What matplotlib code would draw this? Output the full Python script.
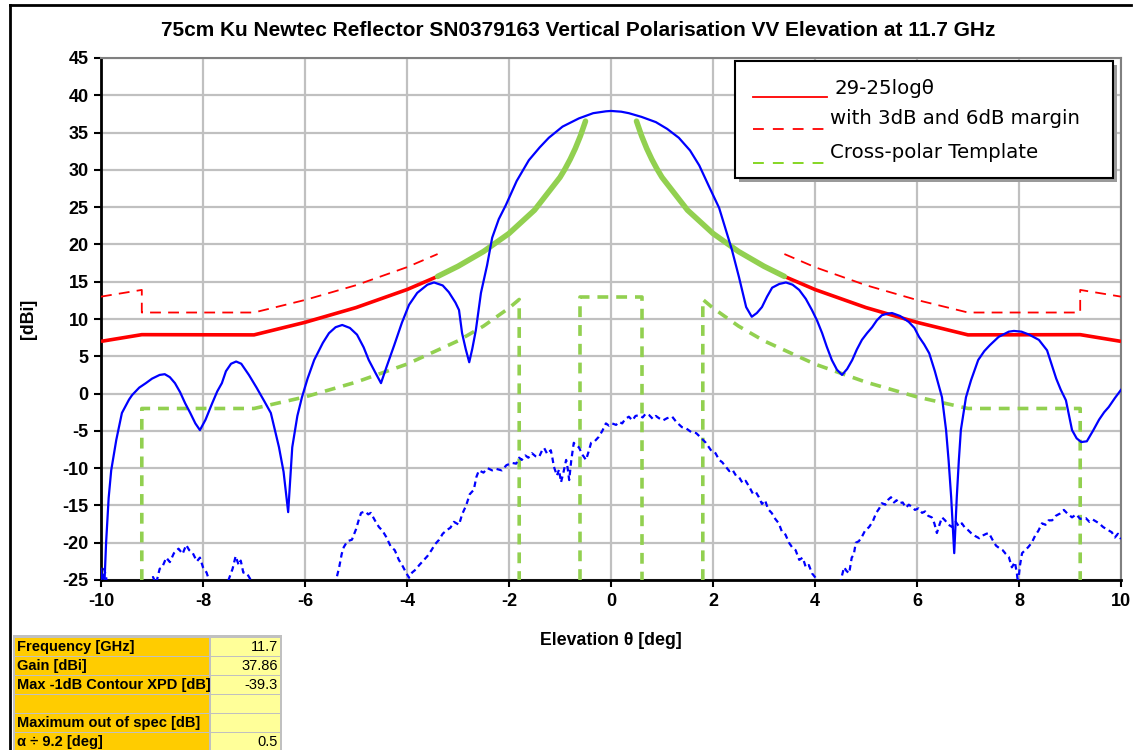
import matplotlib
matplotlib.use("Agg")
import matplotlib.pyplot as plt
from matplotlib.lines import Line2D
from matplotlib.patches import Rectangle

# ---------------- data ----------------
title = "75cm Ku Newtec Reflector SN0379163 Vertical Polarisation VV Elevation at 11.7 GHz"
x_ticks = [-10, -8, -6, -4, -2, 0, 2, 4, 6, 8, 10]
y_ticks = [-25, -20, -15, -10, -5, 0, 5, 10, 15, 20, 25, 30, 35, 40, 45]

co_theta = [-10.0, -9.96, -9.9, -9.85, -9.8, -9.7, -9.59, -9.45, -9.39, -9.25, -9.12, -9.0, -8.85, -8.75,
            -8.65, -8.55, -8.45, -8.35, -8.25, -8.15, -8.06, -7.95, -7.82, -7.72, -7.63, -7.55, -7.45,
            -7.35, -7.25, -7.1, -6.95, -6.8, -6.67, -6.51, -6.42, -6.33, -6.25, -6.15, -6.06, -5.95,
            -5.82, -5.65, -5.53, -5.4, -5.27, -5.12, -4.98, -4.85, -4.75, -4.62, -4.51, -4.4, -4.25,
            -4.1, -3.96, -3.8, -3.6, -3.47, -3.3, -3.18, -3.05, -2.98, -2.92, -2.85, -2.78, -2.72,
            -2.65, -2.55, -2.43, -2.33, -2.2, -2.06, -1.85, -1.61, -1.4, -1.22, -0.95, -0.63, -0.35,
            -0.1, 0.0, 0.2, 0.35, 0.6, 0.88, 1.1, 1.33, 1.55, 1.73, 1.92, 2.12, 2.25, 2.37, 2.51, 2.65,
            2.76, 2.86, 2.96, 3.06, 3.16, 3.3, 3.43, 3.56, 3.69, 3.82, 3.94, 4.04, 4.14, 4.23, 4.33,
            4.43, 4.53, 4.63, 4.73, 4.82, 4.92, 5.02, 5.12, 5.21, 5.31, 5.41, 5.51, 5.67, 5.84, 5.95,
            6.04, 6.14, 6.24, 6.35, 6.45, 6.49, 6.57, 6.62, 6.67, 6.73, 6.78, 6.82, 6.86, 6.96, 7.06,
            7.2, 7.32, 7.43, 7.6, 7.8, 7.9, 8.05, 8.2, 8.39, 8.55, 8.73, 8.82, 8.92, 9.04, 9.13, 9.22,
            9.33, 9.45, 9.57, 9.67, 9.76, 9.88, 10.0]
co_gain = [-23.5, -30.0, -20.0, -14.0, -10.3, -6.2, -2.6, -0.8, -0.2, 0.8, 1.4, 2.0, 2.5, 2.6,
           2.2, 1.4, 0.2, -1.3, -2.6, -4.0, -4.9, -3.5, -1.3, 0.3, 1.4, 3.0, 4.0,
           4.3, 4.0, 2.5, 0.8, -1.0, -2.6, -7.2, -10.5, -15.9, -7.2, -3.0, -0.5, 2.0,
           4.5, 6.8, 8.1, 8.9, 9.2, 8.8, 7.9, 6.2, 4.5, 2.8, 1.4, 3.6, 6.5,
           9.5, 11.9, 13.5, 14.6, 14.9, 14.5, 13.6, 12.2, 11.2, 8.1, 6.0, 4.2, 6.0,
           8.5, 13.5, 17.2, 20.9, 23.4, 25.3, 28.5, 31.3, 33.0, 34.3, 35.8, 36.9, 37.6,
           37.85, 37.9, 37.8, 37.6, 37.1, 36.4, 35.5, 34.3, 32.6, 30.6, 27.8, 24.9, 22.0, 19.3, 15.6, 11.6,
           10.3, 10.8, 11.6, 13.0, 14.2, 14.7, 14.9, 14.6, 13.9, 12.7, 11.2, 9.8, 8.1, 6.3, 4.5,
           3.2, 2.5, 3.3, 4.5, 5.9, 7.2, 8.1, 8.9, 9.8, 10.5, 10.7, 10.8, 10.4, 9.6, 8.8,
           7.6, 6.6, 5.4, 3.0, 0.5, -0.5, -4.9, -9.0, -13.9, -21.4, -13.9, -9.0, -4.9, -0.5, 1.8,
           4.5, 5.7, 6.5, 7.6, 8.3, 8.4, 8.3, 7.9, 7.2, 5.8, 2.0, 0.5, -0.9, -4.9, -6.0, -6.5,
           -6.4, -5.0, -3.5, -2.5, -1.8, -0.6, 0.5]

xp_theta = [-10.0, -9.97, -9.94, -9.9, -9.86, -9.2, -9.1, -8.98, -8.92, -8.85, -8.8, -8.72, -8.65,
            -8.57, -8.48, -8.4, -8.33, -8.27, -8.2, -8.12, -8.06, -8.0, -7.93, -7.86, -7.8, -7.55,
            -7.5, -7.42, -7.36, -7.3, -7.26, -7.21, -7.14, -7.08, -7.0, -6.95, -5.42, -5.39, -5.33,
            -5.28, -5.24, -5.17, -5.08, -5.0, -4.94, -4.9, -4.82, -4.76, -4.71, -4.63, -4.55, -4.48,
            -4.41, -4.32, -4.24, -4.16, -4.08, -4.02, -3.96, -3.9, -3.83, -3.76, -3.68, -3.6, -3.52,
            -3.45, -3.37, -3.3, -3.22, -3.15, -3.08, -2.98, -2.92, -2.84, -2.77, -2.69, -2.64, -2.59,
            -2.5, -2.42, -2.33, -2.25, -2.14, -2.05, -1.94, -1.86, -1.8, -1.75, -1.68, -1.62, -1.55,
            -1.48, -1.41, -1.35, -1.31, -1.25, -1.18, -1.15, -1.12, -1.06, -1.02, -0.98, -0.93, -0.88,
            -0.85, -0.82, -0.78, -0.73, -0.68, -0.63, -0.56, -0.49, -0.44, -0.39, -0.32, -0.24, -0.17,
            -0.1, -0.04, 0.02, 0.1, 0.16, 0.22, 0.28, 0.35, 0.42, 0.48, 0.55, 0.62, 0.68, 0.75, 0.82,
            0.88, 0.94, 1.02, 1.1, 1.2, 1.28, 1.39, 1.48, 1.58, 1.67, 1.76, 1.86, 1.92, 1.98, 2.05,
            2.12, 2.18, 2.25, 2.32, 2.38, 2.45, 2.51, 2.58, 2.64, 2.71, 2.78, 2.84, 2.9, 2.96, 3.02,
            3.08, 3.15, 3.22, 3.29, 3.35, 3.42, 3.49, 3.55, 3.62, 3.69, 3.76, 3.82, 3.88, 3.94, 4.0,
            4.08, 4.1, 4.45, 4.5, 4.57, 4.62, 4.67, 4.72, 4.76, 4.8, 4.86, 4.92, 4.98, 5.06, 5.13,
            5.2, 5.26, 5.31, 5.38, 5.44, 5.49, 5.55, 5.6, 5.65, 5.72, 5.78, 5.84, 5.9, 5.96, 6.03,
            6.1, 6.16, 6.22, 6.29, 6.34, 6.39, 6.44, 6.49, 6.55, 6.62, 6.69, 6.76, 6.82, 6.88, 6.94,
            7.0, 7.06, 7.14, 7.22, 7.3, 7.36, 7.41, 7.48, 7.55, 7.61, 7.68, 7.74, 7.8, 7.86, 7.92,
            7.96, 7.98, 8.02, 8.06, 8.12, 8.18, 8.25, 8.32, 8.38, 8.45, 8.52, 8.58, 8.65, 8.72, 8.8,
            8.88, 8.95, 9.04, 9.12, 9.2, 9.31, 9.38, 9.45, 9.57, 9.65, 9.72, 9.82, 9.88, 9.94, 10.0]
xp_gain = [-24.0, -27.0, -23.5, -24.5, -28.0, -28.0, -26.0, -24.6, -25.5, -23.5, -23.3, -22.0, -22.6,
           -21.4, -20.8, -21.5, -20.3, -21.0, -21.4, -22.5, -22.0, -23.3, -24.0, -25.5, -28.0, -28.0,
           -25.0, -23.5, -21.8, -23.0, -22.4, -24.0, -24.1, -24.8, -26.0, -28.0, -28.0, -25.0, -23.3,
           -21.5, -20.6, -19.8, -19.6, -18.2, -16.8, -16.0, -15.8, -16.2, -16.0, -17.0, -17.9, -18.4,
           -19.2, -20.5, -21.0, -22.3, -23.2, -24.0, -24.7, -24.0, -23.6, -23.0, -22.4, -21.8, -21.0,
           -20.2, -19.6, -18.8, -18.3, -18.0, -17.2, -17.6, -16.2, -15.0, -13.5, -12.9, -11.2, -10.3,
           -10.6, -10.0, -10.3, -10.1, -10.3, -9.6, -9.3, -9.4, -8.6, -8.9, -8.3, -8.6, -8.0,
           -8.4, -8.5, -7.6, -7.3, -8.1, -7.6, -8.6, -9.8, -11.0, -10.2, -11.9, -10.5, -8.9,
           -10.0, -11.6, -9.0, -6.6, -7.0, -7.2, -8.2, -8.9, -7.8, -6.6, -6.4, -5.8, -5.0,
           -4.0, -4.3, -4.0, -4.2, -3.8, -4.0, -3.4, -3.1, -3.6, -3.0, -2.9, -3.2, -2.7, -2.9, -3.4,
           -3.0, -3.3, -3.6, -3.3, -3.1, -3.8, -4.5, -4.7, -5.2, -5.3, -5.9, -6.6, -7.2, -7.8, -8.0,
           -8.9, -9.2, -9.8, -10.4, -10.2, -11.0, -11.2, -12.0, -11.7, -12.5, -13.4, -13.2, -13.9, -14.8, -14.3,
           -15.5, -16.0, -16.8, -17.4, -18.5, -18.9, -20.0, -20.6, -21.0, -22.3, -22.0, -23.3, -23.0, -24.1, -24.6,
           -25.5, -28.0, -28.0, -25.2, -23.3, -23.8, -24.1, -22.0, -21.6, -20.0, -19.8, -19.2, -18.4, -17.9, -17.2,
           -16.0, -15.4, -14.7, -14.9, -14.2, -13.9, -14.6, -14.3, -14.7, -14.6, -15.3, -14.9, -15.2, -15.6, -15.4,
           -16.0, -15.8, -16.4, -16.6, -17.4, -18.7, -17.6, -16.6, -17.0, -17.6, -17.9, -17.2, -17.8, -17.4, -18.0,
           -18.3, -18.7, -19.1, -19.4, -19.0, -18.8, -18.7, -19.6, -20.4, -20.7, -21.0, -21.5, -21.9, -23.3, -22.6,
           -24.2, -25.5, -23.0, -21.4, -21.0, -20.6, -20.0, -19.0, -18.4, -17.4, -17.6, -17.0, -17.0, -16.4, -16.1,
           -15.6, -16.1, -16.6, -16.2, -16.8, -16.7, -17.2, -16.9, -17.4, -17.9, -18.2, -18.6, -19.3, -18.8, -19.5]

# 29-25log(theta) envelope (solid red), left and right
red_theta_l = [-10.0, -9.2, -7.0, -6.0, -5.0, -4.0, -3.4]
red_gain_l = [7.0, 7.9, 7.87, 9.55, 11.53, 13.95, 15.71]
red_theta_r = [3.4, 4.0, 5.0, 6.0, 7.0, 9.2, 10.0]
red_gain_r = [15.71, 13.95, 11.53, 9.55, 7.87, 7.9, 7.0]

# with 3 dB / 6 dB margin (dashed red)
redm_theta_l = [-10.0, -9.2, -9.2, -7.0, -6.0, -5.0, -4.0, -3.4]
redm_gain_l = [13.0, 13.9, 10.87, 10.87, 12.55, 14.53, 16.95, 18.71]
redm_theta_r = [3.4, 4.0, 5.0, 6.0, 7.0, 9.2, 9.2, 10.0]
redm_gain_r = [18.71, 16.95, 14.53, 12.55, 10.87, 10.87, 13.9, 13.0]

# near-in envelope (thick green)
grn_theta_l = [-3.4, -3.0, -2.5, -2.0, -1.5, -1.0, -0.9, -0.8, -0.7, -0.6, -0.5]
grn_gain_l = [15.71, 17.07, 19.05, 21.47, 24.6, 29.0, 30.14, 31.42, 32.87, 34.55, 36.53]
grn_theta_r = [0.5, 0.6, 0.7, 0.8, 0.9, 1.0, 1.5, 2.0, 2.5, 3.0, 3.4]
grn_gain_r = [36.53, 34.55, 32.87, 31.42, 30.14, 29.0, 24.6, 21.47, 19.05, 17.07, 15.71]

# cross-polar template (dashed green)
xt_theta_l = [-9.2, -9.2, -7.0, -6.0, -5.0, -4.0, -3.0, -2.5, -2.0, -1.8, -1.8]
xt_gain_l = [-25.0, -2.0, -2.0, -0.45, 1.53, 3.95, 7.07, 9.05, 11.47, 12.62, -25.0]
xt_theta_c = [-0.6, -0.6, 0.6, 0.6]
xt_gain_c = [-25.0, 13.0, 13.0, -25.0]
xt_theta_r = [1.8, 1.8, 2.0, 2.5, 3.0, 4.0, 5.0, 6.0, 7.0, 9.2, 9.2]
xt_gain_r = [-25.0, 12.62, 11.47, 9.05, 7.07, 3.95, 1.53, -0.45, -2.0, -2.0, -25.0]

legend_labels = ["29-25log\u03b8", "with 3dB and 6dB margin", "Cross-polar Template"]
table_labels = ["Frequency [GHz]", "Gain [dBi]", "Max -1dB Contour XPD [dB]", "",
                "Maximum out of spec [dB]", "\u03b1 \u00f7 9.2 [deg]"]
table_values = ["11.7", "37.86", "-39.3", "", "", "0.5"]

# ---------------- figure ----------------
W, H = 1135, 750
fig = plt.figure(figsize=(W / 100, H / 100), dpi=100)
plt.rcParams['font.family'] = ['Liberation Sans', 'DejaVu Sans']


def fx(x):
    return x / W


def fy(y):
    return 1 - y / H


ax_l, ax_r, ax_t, ax_b = 101, 1121, 58, 580
ax = fig.add_axes([fx(ax_l), fy(ax_b), (ax_r - ax_l) / W, (ax_b - ax_t) / H])

BLUE = "#0000FF"
RED = "#FF0000"
GREEN = "#92D050"

ax.plot(co_theta, co_gain, color=BLUE, lw=1.6, zorder=5)
ax.plot(xp_theta, xp_gain, color=BLUE, lw=1.6, dashes=(2.5, 1.8), zorder=5)

for t, g in [(red_theta_l, red_gain_l), (red_theta_r, red_gain_r)]:
    ax.plot(t, g, color=RED, lw=2.6, zorder=4, solid_capstyle='butt')
for t, g in [(redm_theta_l, redm_gain_l), (redm_theta_r, redm_gain_r)]:
    ax.plot(t, g, color=RED, lw=1.3, dashes=(6, 4), zorder=4)
for t, g in [(grn_theta_l, grn_gain_l), (grn_theta_r, grn_gain_r)]:
    ax.plot(t, g, color=GREEN, lw=4, zorder=4, solid_capstyle='round')
for t, g in [(xt_theta_l, xt_gain_l), (xt_theta_c, xt_gain_c), (xt_theta_r, xt_gain_r)]:
    ax.plot(t, g, color=GREEN, lw=2.6, dashes=(3, 2.2), zorder=3)

ax.set_xlim(-10, 10)
ax.set_ylim(-25, 45)
ax.set_xticks(x_ticks)
ax.set_yticks(y_ticks)
ax.set_xticklabels([str(v) for v in x_ticks], fontsize=13, fontweight='bold')
ax.set_yticklabels([str(v) for v in y_ticks], fontsize=13, fontweight='bold')
ax.grid(True, color="#C0C0C0", lw=1.6, zorder=0)
ax.set_axisbelow(True)
ax.tick_params(direction='out', length=5, width=1.5, color='black', pad=4)
for s in ['left', 'bottom']:
    ax.spines[s].set_color('black')
    ax.spines[s].set_linewidth(2)
for s in ['top', 'right']:
    ax.spines[s].set_color('#808080')
    ax.spines[s].set_linewidth(1.5)

ax.set_xlabel("Elevation \u03b8 [deg]", fontsize=12.8, fontweight='bold', labelpad=16)
ax.set_ylabel("[dBi]", fontsize=12.8, fontweight='bold', labelpad=18)
fig.text(fx(578), fy(31), title, ha='center', va='center', fontsize=15, fontweight='bold')

# ---------------- legend (manual, Excel style) ----------------
lx0, lx1, ly0, ly1 = 735, 1113, 61, 178
fig.patches.append(Rectangle((fx(lx0 + 4), fy(ly1 + 4)), (lx1 - lx0) / W, (ly1 - ly0) / H,
                             transform=fig.transFigure, facecolor='#9a9a9a', edgecolor='none', zorder=6))
fig.patches.append(Rectangle((fx(lx0), fy(ly1)), (lx1 - lx0) / W, (ly1 - ly0) / H,
                             transform=fig.transFigure, facecolor='white', edgecolor='black', lw=1.5, zorder=7))
leg_styles = [dict(color=RED, lw=1.3), dict(color=RED, lw=1.3, dashes=(6, 5)),
              dict(color='#7CD313', lw=1.3, dashes=(6, 5))]
leg_line_y = [97, 129, 163]
leg_text_y = [88, 118, 153]
leg_text_x = [834, 830, 830]
for lab, st, ly, ty, tx in zip(legend_labels, leg_styles, leg_line_y, leg_text_y, leg_text_x):
    fig.add_artist(Line2D([fx(753), fx(827)], [fy(ly), fy(ly)], transform=fig.transFigure, zorder=8, **st))
    fig.text(fx(tx), fy(ty), lab, ha='left', va='center', fontsize=14.2, family='DejaVu Sans', zorder=8)

# ---------------- outer frame ----------------
fig.add_artist(Line2D([fx(10), fx(1131)], [fy(5), fy(5)], transform=fig.transFigure, color='black', lw=2))
fig.add_artist(Line2D([fx(10), fx(10)], [fy(5), fy(752)], transform=fig.transFigure, color='black', lw=2))

# ---------------- info table ----------------
tx0, tx1, tmid = 13, 282, 209
fig.patches.append(Rectangle((fx(tx0), fy(752)), (tx1 - tx0) / W, (752 - 635) / H,
                             transform=fig.transFigure, facecolor='#C0C0C0', edgecolor='none'))
row_top = [638, 657, 676, 695, 714, 733]
row_h = 17.5
for lab, val, rt in zip(table_labels, table_values, row_top):
    fig.patches.append(Rectangle((fx(15), fy(rt + row_h)), (tmid - 15) / W, row_h / H,
                                 transform=fig.transFigure, facecolor='#FFCC00', edgecolor='none'))
    fig.patches.append(Rectangle((fx(tmid + 2), fy(rt + row_h)), (280 - tmid - 2) / W, row_h / H,
                                 transform=fig.transFigure, facecolor='#FFFF99', edgecolor='none'))
    if lab:
        fig.text(fx(17), fy(rt + row_h / 2 + 0.5), lab, ha='left', va='center', fontsize=10.5, fontweight='bold')
    if val:
        fig.text(fx(278), fy(rt + row_h / 2 + 0.5), val, ha='right', va='center', fontsize=10.5)

fig.savefig("out.png", dpi=100)
